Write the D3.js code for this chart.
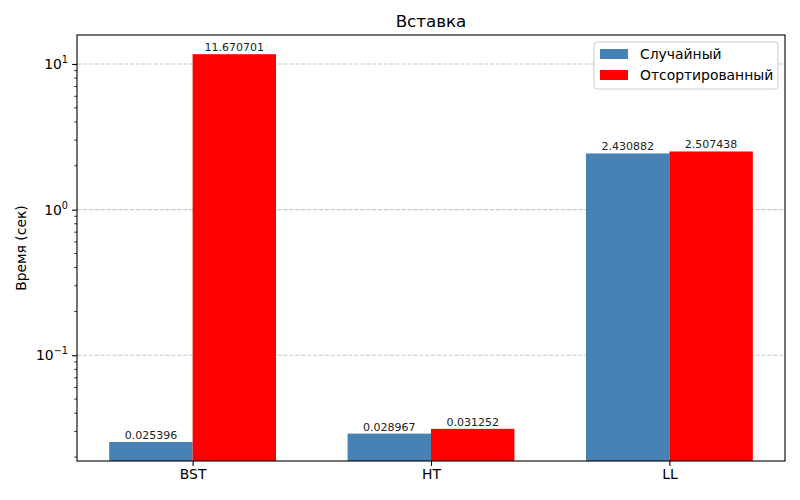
<!DOCTYPE html>
<html>
<head>
<meta charset="utf-8">
<script src="https://cdn.jsdelivr.net/npm/d3@7"></script>
<style>
  body { margin: 0; background: #fff; }
  text { font-family: "DejaVu Sans", sans-serif; }
</style>
</head>
<body>
<div id="chart-area"></div>
<script>
// data
const categories = ['BST', 'HT', 'LL'];
const seriesNames = ['Случайный', 'Отсортированный'];
const randomTimes = [0.025396, 0.028967, 2.430882];
const sortedTimes = [11.670701, 0.031252, 2.507438];
const colors = ['#4682b4', '#ff0000'];
const majorTicks = [0.1, 1, 10];
const majorExp = [-1, 0, 1];

const W = 800, H = 500;
const margin = { left: 77, right: 15, top: 35, bottom: 39 };
const width = W - margin.left - margin.right;
const height = H - margin.top - margin.bottom;
const barW = 0.35;

const svg = d3.select('#chart-area').append('svg')
  .attr('width', W)
  .attr('height', H);

const chart = svg.append('g')
  .attr('transform', `translate(${margin.left},${margin.top})`);

// x scale in category units (5% margins)
const x = d3.scaleLinear()
  .domain([-barW - 0.135, categories.length - 1 + barW + 0.135])
  .range([0, width]);

const y = d3.scaleLog()
  .domain([Math.pow(10, -1.726), Math.pow(10, 1.199)])
  .range([height, 0]);

// grid
chart.append('g')
  .selectAll('line')
  .data(majorTicks)
  .enter().append('line')
    .attr('x1', 0)
    .attr('x2', width)
    .attr('y1', d => y(d))
    .attr('y2', d => y(d))
    .attr('stroke', '#b0b0b0')
    .attr('stroke-opacity', 0.7)
    .attr('stroke-width', 1.1)
    .attr('stroke-dasharray', '4.1,1.8');

// bars
const series = [randomTimes, sortedTimes];
series.forEach(function (vals, s) {
  const off = s === 0 ? -barW / 2 : barW / 2;
  const g = chart.append('g');
  g.selectAll('rect')
    .data(vals)
    .enter().append('rect')
      .attr('x', (d, i) => x(i + off - barW / 2))
      .attr('width', x(barW) - x(0))
      .attr('y', d => y(d))
      .attr('height', d => height - y(d))
      .attr('fill', colors[s]);
  g.selectAll('text')
    .data(vals)
    .enter().append('text')
      .attr('x', (d, i) => x(i + off))
      .attr('y', d => y(d) - 3)
      .attr('text-anchor', 'middle')
      .attr('font-size', '11px')
      .attr('fill', '#222')
      .text(d => d.toFixed(6));
});

// minor ticks
const minor = [];
for (let e = -2; e <= 1; e++) {
  for (let m = 2; m <= 9; m++) {
    const v = m * Math.pow(10, e);
    if (v >= y.domain()[0] && v <= y.domain()[1]) minor.push(v);
  }
}
chart.append('g')
  .selectAll('line')
  .data(minor)
  .enter().append('line')
    .attr('x1', -2.8)
    .attr('x2', 0)
    .attr('y1', d => y(d))
    .attr('y2', d => y(d))
    .attr('stroke', '#000')
    .attr('stroke-width', 0.8);

// y axis major
const yAxis = chart.append('g')
  .call(d3.axisLeft(y).tickValues(majorTicks).tickSize(4.9).tickPadding(4).tickFormat(''));
yAxis.select('.domain').remove();
yAxis.selectAll('.tick line').attr('stroke-width', 1.1);

const yLabels = chart.append('g');
majorTicks.forEach(function (v, i) {
  const t = yLabels.append('text')
    .attr('x', -9)
    .attr('y', y(v) + 5)
    .attr('text-anchor', 'end')
    .attr('font-size', '13.9px')
    .attr('fill', '#000');
  t.append('tspan').text('10');
  t.append('tspan')
    .attr('dy', -6)
    .attr('font-size', '9.7px')
    .text(majorExp[i] < 0 ? '\u2212' + Math.abs(majorExp[i]) : majorExp[i]);
});

// x axis
const xAxis = chart.append('g')
  .attr('transform', `translate(0,${height})`)
  .call(d3.axisBottom(x).tickValues(d3.range(categories.length))
    .tickSize(4.9).tickPadding(3.5).tickFormat(i => categories[i]));
xAxis.select('.domain').remove();
xAxis.selectAll('.tick line').attr('stroke-width', 1.1);
xAxis.selectAll('.tick text')
  .attr('font-size', '13.9px')
  .attr('fill', '#000')
  .style('font-family', '"DejaVu Sans", sans-serif');

// frame
chart.append('rect')
  .attr('width', width)
  .attr('height', height)
  .attr('fill', 'none')
  .attr('stroke', '#000')
  .attr('stroke-width', 1.1);

// title and y label
svg.append('text')
  .attr('x', margin.left + width / 2)
  .attr('y', 27)
  .attr('text-anchor', 'middle')
  .attr('font-size', '16.7px')
  .text('Вставка');

svg.append('text')
  .attr('transform', `translate(26,${margin.top + height / 2}) rotate(-90)`)
  .attr('text-anchor', 'middle')
  .attr('font-size', '13.9px')
  .text('Время (сек)');

// legend
const legend = svg.append('g')
  .attr('transform', 'translate(594,42)');
legend.append('rect')
  .attr('width', 184)
  .attr('height', 47)
  .attr('rx', 3)
  .attr('fill', '#fff')
  .attr('fill-opacity', 0.8)
  .attr('stroke', '#cccccc')
  .attr('stroke-width', 1);
seriesNames.forEach(function (name, i) {
  legend.append('rect')
    .attr('x', 6)
    .attr('y', 7 + i * 21)
    .attr('width', 28)
    .attr('height', 10)
    .attr('fill', colors[i]);
  legend.append('text')
    .attr('x', 46)
    .attr('y', 17 + i * 21)
    .attr('font-size', '13.9px')
    .text(name);
});
</script>
</body>
</html>
